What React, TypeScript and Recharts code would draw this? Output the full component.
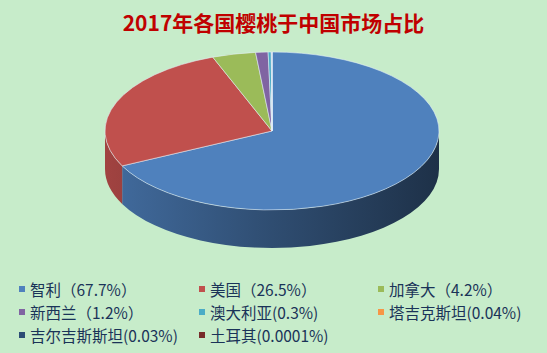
import { PieChart, Pie } from "recharts";

const countries = ["智利", "美国", "加拿大", "新西兰", "澳大利亚", "塔吉克斯坦", "吉尔吉斯斯坦", "土耳其"];
const shares = [67.7, 26.5, 4.2, 1.2, 0.3, 0.04, 0.03, 0.0001];
const legendLabels = [
  "智利（67.7%）",
  "美国（26.5%）",
  "加拿大（4.2%）",
  "新西兰（1.2%）",
  "澳大利亚(0.3%)",
  "塔吉克斯坦(0.04%)",
  "吉尔吉斯斯坦(0.03%)",
  "土耳其(0.0001%)",
];
const colors = ["#4f81bd", "#c0504d", "#9bbb59", "#8064a2", "#4bacc6", "#f79646", "#2c4d75", "#772c2a"];

const data = countries.map((name, i) => ({ name, value: shares[i] }));

const RAD = Math.PI / 180;
const TILT = 0.473;
const DEPTH = 38;

function shade(hex: string, f: number) {
  const n = parseInt(hex.slice(1), 16);
  const r = Math.round(((n >> 16) & 255) * f);
  const g = Math.round(((n >> 8) & 255) * f);
  const b = Math.round((n & 255) * f);
  return `rgb(${r},${g},${b})`;
}

// draws each slice as a tilted (elliptical) sector with its outer wall
const renderSlice = (p: any) => {
  const { cx, cy, outerRadius, startAngle, endAngle, index } = p;
  const rx = outerRadius;
  const ry = outerRadius * TILT;
  const pt = (a: number, dy = 0) => [cx + rx * Math.cos(a * RAD), cy - ry * Math.sin(a * RAD) + dy];
  const hi = Math.max(startAngle, endAngle);
  const lo = Math.min(startAngle, endAngle);
  const [sx, sy] = pt(hi);
  const [ex, ey] = pt(lo);
  const large = hi - lo > 180 ? 1 : 0;
  const top = `M${cx},${cy} L${sx},${sy} A${rx},${ry} 0 ${large} 1 ${ex},${ey} Z`;

  const walls: string[] = [];
  for (let k = -2; k <= 1; k++) {
    const a1 = Math.max(lo, -180 + 360 * k);
    const a2 = Math.min(hi, 360 * k);
    if (a2 - a1 > 0.0001) {
      const [x2, y2] = pt(a2);
      const [x1, y1] = pt(a1);
      const [x1d, y1d] = pt(a1, DEPTH);
      const [x2d, y2d] = pt(a2, DEPTH);
      walls.push(
        `M${x2},${y2} A${rx},${ry} 0 0 1 ${x1},${y1} L${x1d},${y1d} A${rx},${ry} 0 0 0 ${x2d},${y2d} Z`
      );
    }
  }

  return (
    <g key={`slice-${index}`}>
      {walls.map((d, j) => (
        <path key={j} d={d} fill={`url(#side${index})`} stroke="none" />
      ))}
      <path d={top} fill={colors[index]} stroke="rgba(230,240,250,0.7)" strokeWidth={0.8} />
    </g>
  );
};

export default function App() {
  return (
    <div
      style={{
        position: "absolute",
        left: 0,
        top: 0,
        width: 547,
        height: 353,
        background: "#c7ecca",
        fontFamily: "'Noto Sans CJK SC', 'Noto Sans', sans-serif",
      }}
    >
      <div
        style={{
          position: "absolute",
          top: 7,
          width: 547,
          textAlign: "center",
          fontSize: 21,
          fontWeight: "bold",
          color: "#c00000",
          lineHeight: "30px",
        }}
      >
        2017年各国樱桃于中国市场占比
      </div>
      <PieChart width={547} height={270} margin={{ top: 0, right: 0, bottom: 0, left: 0 }}>
        <defs>
          {colors.map((c, i) => (
            <linearGradient key={i} id={`side${i}`} gradientUnits="userSpaceOnUse" x1={105} y1={0} x2={439} y2={0}>
              <stop offset="0%" stopColor={shade(c, 0.84)} />
              <stop offset="50%" stopColor={shade(c, 0.6)} />
              <stop offset="100%" stopColor={shade(c, 0.38)} />
            </linearGradient>
          ))}
        </defs>
        <Pie
          data={data}
          dataKey="value"
          nameKey="name"
          cx={272}
          cy={131}
          outerRadius={167}
          startAngle={90}
          endAngle={-270}
          fill="none"
          stroke="none"
          label={renderSlice}
          labelLine={false}
          isAnimationActive={false}
        />
      </PieChart>
      {legendLabels.map((label, i) => {
        const col = i % 3;
        const row = Math.floor(i / 3);
        const left = [19, 199, 378][col];
        return (
          <div
            key={label}
            style={{
              position: "absolute",
              left,
              top: 278 + row * 23,
              height: 22,
              display: "flex",
              alignItems: "center",
              fontSize: 15.5,
              color: "#1a3358",
              whiteSpace: "nowrap",
            }}
          >
            <span style={{ width: 6, height: 6, background: colors[i], marginRight: 5, display: "inline-block" }} />
            {label}
          </div>
        );
      })}
    </div>
  );
}
